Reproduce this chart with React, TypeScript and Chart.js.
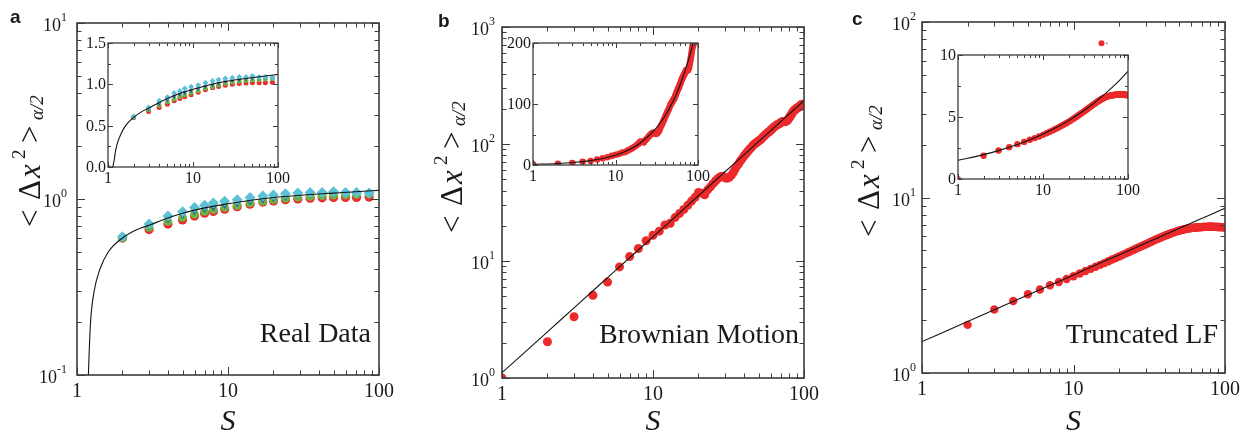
import React, { useEffect, useRef } from "react";
import { Chart, registerables } from "chart.js";

Chart.register(...registerables);

const SERIF = '"Liberation Serif", "Times New Roman", Times, serif';
const SANS = '"Liberation Sans", Arial, Helvetica, sans-serif';
const RED = "#ec2a2c";
const GREEN = "#6cb443";
const BLUE = "#2c58a6";
const CYAN = "#5cc1d4";
const FRAME = "#3c3c3c";
const INK = "#1a1a1a";

// ---------- tick definitions ----------
const sTicks = [1, 10, 100];
const sTickLabels = ["1", "10", "100"];
const sMinor = [2, 3, 4, 5, 6, 7, 8, 9, 20, 30, 40, 50, 60, 70, 80, 90];

const aYTicks = [0.1, 1, 10];
const aYSup = ["-1", "0", "1"];
const aYMinor = [0.2, 0.3, 0.4, 0.5, 0.6, 0.7, 0.8, 0.9, 2, 3, 4, 5, 6, 7, 8, 9];
const bYTicks = [1, 10, 100, 1000];
const bYSup = ["0", "1", "2", "3"];
const bYMinor = [2, 3, 4, 5, 6, 7, 8, 9, 20, 30, 40, 50, 60, 70, 80, 90, 200, 300, 400, 500, 600, 700, 800, 900];
const cYTicks = [1, 10, 100];
const cYSup = ["0", "1", "2"];
const cYMinor = [2, 3, 4, 5, 6, 7, 8, 9, 20, 30, 40, 50, 60, 70, 80, 90];

const aInYTicks = [0, 0.5, 1.0, 1.5];
const aInYLabels = ["0.0", "0.5", "1.0", "1.5"];
const aInYMinor = [0.25, 0.75, 1.25];
const bInYTicks = [0, 100, 200];
const bInYLabels = ["0", "100", "200"];
const bInYMinor = [50, 150];
const cInYTicks = [0, 5, 10];
const cInYLabels = ["0", "5", "10"];
const cInYMinor = [2.5, 7.5];

// ---------- panel a: real data ----------
const sA = [2, 3, 4, 5, 6, 7, 8, 9.5, 11.5, 14, 17, 20, 24, 29, 35, 42, 50, 60, 71, 86];
const aRed = [0.6, 0.67, 0.72, 0.76, 0.8, 0.83, 0.85, 0.875, 0.905, 0.935, 0.96, 0.975, 0.99, 1.0, 1.01, 1.015, 1.02, 1.02, 1.02, 1.025];
const aGreen = [0.6, 0.69, 0.745, 0.785, 0.82, 0.85, 0.87, 0.895, 0.92, 0.95, 0.97, 0.99, 1.01, 1.025, 1.035, 1.045, 1.05, 1.055, 1.06, 1.065];
const aBlue = [0.6, 0.7, 0.77, 0.815, 0.855, 0.88, 0.9, 0.925, 0.95, 0.975, 0.995, 1.015, 1.035, 1.05, 1.06, 1.07, 1.075, 1.08, 1.08, 1.08];
const aCyan = [0.61, 0.72, 0.8, 0.845, 0.895, 0.92, 0.95, 0.97, 0.99, 1.02, 1.04, 1.055, 1.07, 1.08, 1.09, 1.09, 1.1, 1.09, 1.09, 1.08];
const aStartS = [1];
const aStartY = [0];
const aFitS = [1.14, 1.165, 1.19, 1.23, 1.3, 1.42, 1.61, 2.0, 2.5, 3, 4, 5, 7, 10, 15, 20, 30, 50, 70, 100];
const aFitY = [0, 0.05, 0.1, 0.2, 0.3, 0.4, 0.5, 0.6, 0.67, 0.71, 0.78, 0.83, 0.89, 0.94, 0.99, 1.02, 1.05, 1.08, 1.1, 1.12];

// ---------- panel b: Brownian motion ----------
const sB = [1, 2, 3, 4, 5, 6, 7, 8, 9, 10, 11, 12, 13, 14, 15, 16, 17, 18, 19, 20, 21, 22, 23, 24, 25, 26, 27, 28, 29, 30, 31, 32, 33, 34, 35, 36, 37, 38, 39, 40, 41, 42, 43, 44, 45, 46, 47, 48, 49, 50, 51, 52, 53, 54, 55, 56, 57, 58, 59, 60, 61, 62, 63, 64, 65, 66, 67, 68, 69, 70, 71, 72, 73, 74, 75, 76, 77, 78, 79, 80, 81, 82, 83, 84, 85, 86, 87, 88, 89, 90, 91, 92, 93, 94, 95, 96, 97, 98, 99, 100];
const bY = [1.0, 2.04, 3.34, 5.1, 6.6, 8.9, 10.9, 12.8, 14.9, 16.6, 18.0, 20.3, 21.0, 23.5, 25.5, 27.6, 29.9, 32.5, 35.0, 38.5, 38.0, 36.8, 40.5, 43.0, 45.8, 48.5, 50.8, 52.5, 53.0, 51.5, 51.0, 52.0, 54.0, 57.0, 61.0, 65.0, 68.0, 72.0, 75.0, 79.0, 82, 85, 88.5, 91, 94, 97.5, 100, 102, 104, 106, 108, 110, 113, 116, 119, 121, 124, 126, 128, 131, 133, 136, 139, 141, 143, 145, 147, 148, 150, 152, 154, 155, 156, 156, 155, 157, 158, 160, 164, 168, 172, 177, 181, 186, 190, 194, 196, 198, 200, 203, 205, 206, 208, 210, 214, 218, 216, 212, 215, 220];
const bFitS = [1, 2, 3, 5, 7, 10, 15, 20, 30, 40, 50, 60, 70, 80, 90, 100];
const bFitY = [1.11, 2.48, 3.98, 7.21, 10.66, 16.1, 25.8, 36.1, 57.9, 80.8, 104.8, 129.5, 155, 181, 207.6, 234.6];

// ---------- panel c: truncated Levy flight ----------
const sC = [2, 3, 4, 5, 6, 7, 8, 9, 10, 11, 12, 13, 14, 15, 16, 17, 18, 19, 20, 21, 22, 23, 24, 25, 26, 27, 28, 29, 30, 31, 32, 33, 34, 35, 36, 37, 38, 39, 40, 41, 42, 43, 44, 45, 46, 47, 48, 49, 50, 51, 52, 53, 54, 55, 56, 57, 58, 59, 60, 61, 62, 63, 64, 65, 66, 67, 68, 69, 70, 71, 72, 73, 74, 75, 76, 77, 78, 79, 80, 81, 82, 83, 84, 85, 86, 87, 88, 89, 90, 91, 92, 93, 94, 95, 96, 97, 98, 99, 100];
const cY = [1.88, 2.3, 2.57, 2.81, 2.99, 3.16, 3.3, 3.43, 3.56, 3.69, 3.81, 3.92, 4.03, 4.13, 4.23, 4.33, 4.43, 4.52, 4.61, 4.7, 4.79, 4.88, 4.96, 5.04, 5.12, 5.2, 5.28, 5.35, 5.42, 5.49, 5.56, 5.63, 5.7, 5.76, 5.82, 5.88, 5.94, 6.0, 6.05, 6.1, 6.15, 6.2, 6.25, 6.29, 6.33, 6.37, 6.41, 6.45, 6.48, 6.51, 6.54, 6.57, 6.59, 6.61, 6.63, 6.65, 6.67, 6.68, 6.7, 6.71, 6.72, 6.73, 6.74, 6.75, 6.76, 6.77, 6.77, 6.78, 6.78, 6.79, 6.79, 6.8, 6.8, 6.8, 6.8, 6.81, 6.81, 6.81, 6.81, 6.81, 6.81, 6.81, 6.8, 6.8, 6.8, 6.8, 6.8, 6.79, 6.79, 6.79, 6.79, 6.78, 6.78, 6.78, 6.78, 6.77, 6.77, 6.77, 6.77];
const cStartS = [1];
const cStartY = [0];
const cFitS = [1, 2, 3, 5, 7, 10, 15, 20, 30, 40, 50, 60, 70, 80, 90, 100];
const cFitY = [1.51, 1.965, 2.29, 2.78, 3.16, 3.62, 4.23, 4.71, 5.5, 6.13, 6.68, 7.16, 7.59, 7.98, 8.35, 8.68];
const cMarkRedS = [15.3];
const cMarkGreyS = [16.6];
const cMarkY = [75.6];

// ---------- helpers ----------
type Pt = { x: number; y: number };
const pts = (xs: number[], ys: number[]): Pt[] => xs.map((x, i) => ({ x, y: ys[i] }));
const positive = (p: Pt[]) => p.filter((q) => q.y > 0);

const dots = (data: Pt[], color: string, r: number, style = "circle", rot = 0, border = 0, borderColor = color) => ({
  data,
  showLine: false,
  pointStyle: style,
  pointRotation: rot,
  pointRadius: r,
  pointHoverRadius: r,
  pointBackgroundColor: color,
  pointBorderColor: borderColor,
  pointBorderWidth: border,
  clip: 0,
});
const curve = (data: Pt[]) => ({
  data,
  showLine: true,
  borderColor: "#141414",
  borderWidth: 1.1,
  pointRadius: 0,
  pointHoverRadius: 0,
  fill: false,
  cubicInterpolationMode: "monotone",
  clip: 0,
});

type AxisDef = {
  log: boolean;
  min: number;
  max: number;
  major: number[];
  minor: number[];
  labels: string[];
  sup?: string[];
  gap?: number;
};
type Spec = {
  key: string;
  left: number;
  top: number;
  w: number;
  h: number;
  pad: { left: number; top: number; right: number; bottom: number };
  main: boolean;
  x: AxisDef;
  y: AxisDef;
  datasets: any[];
  extra?: (ctx: CanvasRenderingContext2D, a: any) => void;
};

function drawYTitle(ctx: CanvasRenderingContext2D, bx: number, by: number) {
  ctx.save();
  ctx.translate(bx, by);
  ctx.rotate(-Math.PI / 2);
  ctx.fillStyle = INK;
  ctx.textAlign = "left";
  ctx.textBaseline = "alphabetic";
  ctx.font = `31px ${SERIF}`;
  ctx.fillText("<", 0, 0);
  ctx.fillText("\u0394", 27, 0);
  ctx.font = `italic 31px ${SERIF}`;
  ctx.fillText("x", 49, 0);
  ctx.font = `19px ${SERIF}`;
  ctx.fillText("2", 68, -15);
  ctx.font = `31px ${SERIF}`;
  ctx.fillText(">", 84, 0);
  ctx.font = `italic 19px ${SERIF}`;
  ctx.fillText("\u03b1/2", 107, 3);
  ctx.restore();
}

function panelText(
  letter: string,
  lx: number,
  ly: number,
  tbx: number,
  tby: number,
  note: string,
  noteRight: number,
  noteBase: number
) {
  return (ctx: CanvasRenderingContext2D, a: any) => {
    ctx.save();
    ctx.fillStyle = INK;
    ctx.textBaseline = "alphabetic";
    ctx.font = `bold 19px ${SANS}`;
    ctx.textAlign = "left";
    ctx.fillText(letter, lx, ly);
    ctx.font = `28px ${SERIF}`;
    ctx.textAlign = "right";
    ctx.fillText(note, noteRight, noteBase);
    ctx.font = `italic 30px ${SERIF}`;
    ctx.textAlign = "center";
    ctx.fillText("S", (a.left + a.right) / 2, 430);
    ctx.restore();
    drawYTitle(ctx, tbx, tby);
  };
}

function axesPlugin(spec: Spec) {
  return {
    id: "axesFrame",
    afterDraw(chart: any) {
      const ctx: CanvasRenderingContext2D = chart.ctx;
      const a = chart.chartArea;
      const xs = chart.scales.x;
      const ys = chart.scales.y;
      const big = spec.main;
      const Lmaj = big ? 8 : 5;
      const Lmin = big ? 4.5 : 3;
      ctx.save();
      ctx.strokeStyle = FRAME;
      ctx.lineWidth = 1;
      ctx.beginPath();
      const tx = (v: number, len: number) => {
        const p = Math.round(xs.getPixelForValue(v)) + 0.5;
        ctx.moveTo(p, a.bottom);
        ctx.lineTo(p, a.bottom - len);
        ctx.moveTo(p, a.top);
        ctx.lineTo(p, a.top + len);
      };
      const ty = (v: number, len: number) => {
        const p = Math.round(ys.getPixelForValue(v)) + 0.5;
        ctx.moveTo(a.left, p);
        ctx.lineTo(a.left + len, p);
        ctx.moveTo(a.right, p);
        ctx.lineTo(a.right - len, p);
      };
      spec.x.major.forEach((v) => tx(v, Lmaj));
      spec.x.minor.forEach((v) => tx(v, Lmin));
      spec.y.major.forEach((v) => ty(v, Lmaj));
      spec.y.minor.forEach((v) => ty(v, Lmin));
      ctx.stroke();
      ctx.lineWidth = big ? 1.6 : 1.3;
      ctx.strokeRect(a.left, a.top, a.right - a.left, a.bottom - a.top);

      // tick labels
      ctx.fillStyle = INK;
      ctx.textBaseline = "alphabetic";
      const xf = big ? 20 : 16;
      ctx.font = `${xf}px ${SERIF}`;
      ctx.textAlign = "center";
      spec.x.major.forEach((v, i) => {
        ctx.fillText(spec.x.labels[i], xs.getPixelForValue(v), a.bottom + (big ? 22 : 16));
      });
      if (spec.y.sup) {
        spec.y.major.forEach((v, i) => {
          const py = ys.getPixelForValue(v);
          const sup = spec.y.sup![i];
          ctx.font = `12px ${SERIF}`;
          const sw = ctx.measureText(sup).width;
          const xr = a.left - (spec.y.gap ?? 8);
          ctx.textAlign = "left";
          ctx.fillText(sup, xr - sw, py - 2);
          ctx.font = `18px ${SERIF}`;
          ctx.textAlign = "right";
          ctx.fillText(spec.y.labels[i], xr - sw, py + 8);
        });
      } else {
        ctx.font = `16px ${SERIF}`;
        ctx.textAlign = "right";
        spec.y.major.forEach((v, i) => {
          ctx.fillText(spec.y.labels[i], a.left - 2, ys.getPixelForValue(v) + 5);
        });
      }
      ctx.restore();
      if (spec.extra) spec.extra(ctx, a);
    },
  };
}

function buildConfig(spec: Spec): any {
  return {
    type: "scatter",
    data: { datasets: spec.datasets },
    options: {
      responsive: false,
      maintainAspectRatio: false,
      animation: false,
      devicePixelRatio: 1,
      events: [],
      layout: { padding: spec.pad },
      plugins: { legend: { display: false }, tooltip: { enabled: false }, title: { display: false } },
      scales: {
        x: { type: spec.x.log ? "logarithmic" : "linear", min: spec.x.min, max: spec.x.max, display: false },
        y: { type: spec.y.log ? "logarithmic" : "linear", min: spec.y.min, max: spec.y.max, display: false },
      },
    },
    plugins: [axesPlugin(spec)],
  };
}

const sAxisMain: AxisDef = { log: true, min: 1, max: 100, major: sTicks, minor: sMinor, labels: sTickLabels };
const sAxisInset: AxisDef = { log: true, min: 1, max: 100, major: sTicks, minor: sMinor, labels: sTickLabels };

const specs: Spec[] = [
  {
    key: "a-main",
    left: 0,
    top: 0,
    w: 420,
    h: 436,
    pad: { left: 77, top: 23, right: 41, bottom: 61 },
    main: true,
    x: sAxisMain,
    y: { log: true, min: 0.1, max: 10, major: aYTicks, minor: aYMinor, labels: ["10", "10", "10"], sup: aYSup, gap: 10 },
    datasets: [
      curve(positive(pts(aFitS, aFitY))),
      dots(pts(sA, aCyan), CYAN, 5.5, "rectRot"),
      dots(pts(sA, aBlue), BLUE, 4.3, "triangle", 180),
      dots(pts(sA, aGreen), GREEN, 4.3),
      dots(pts(sA, aRed), RED, 4.6),
    ],
    extra: panelText("a", 10, 23, 40, 227, "Real Data", 371, 342),
  },
  {
    key: "b-main",
    left: 420,
    top: 0,
    w: 410,
    h: 436,
    pad: { left: 82, top: 27, right: 26, bottom: 58 },
    main: true,
    x: sAxisMain,
    y: { log: true, min: 1, max: 1000, major: bYTicks, minor: bYMinor, labels: ["10", "10", "10", "10"], sup: bYSup, gap: 7 },
    datasets: [curve(pts(bFitS, bFitY)), dots(pts(sB, bY), RED, 4.5)],
    extra: panelText("b", 18, 27, 42, 233, "Brownian Motion", 379, 343),
  },
  {
    key: "c-main",
    left: 830,
    top: 0,
    w: 420,
    h: 436,
    pad: { left: 92, top: 22, right: 25, bottom: 63 },
    main: true,
    x: sAxisMain,
    y: { log: true, min: 1, max: 100, major: cYTicks, minor: cYMinor, labels: ["10", "10", "10"], sup: cYSup, gap: 6 },
    datasets: [
      curve(pts(cFitS, cFitY)),
      dots(pts(cMarkRedS, cMarkY), RED, 3),
      dots(pts(cMarkGreyS, cMarkY), "#9a9a9a", 1),
      dots(pts(sC, cY), RED, 4.2),
    ],
    extra: panelText("c", 22, 25, 49, 237, "Truncated LF", 388, 343),
  },
  {
    key: "a-inset",
    left: 80,
    top: 30,
    w: 220,
    h: 170,
    pad: { left: 28, top: 13, right: 22, bottom: 33 },
    main: false,
    x: sAxisInset,
    y: { log: false, min: 0, max: 1.5, major: aInYTicks, minor: aInYMinor, labels: aInYLabels },
    datasets: [
      curve(pts(aFitS, aFitY)),
      dots(pts(aStartS, aStartY), CYAN, 2.6),
      dots(pts(sA, aCyan), CYAN, 3, "rectRot"),
      dots(pts(sA, aBlue), BLUE, 2.6, "triangle", 180),
      dots(pts(sA, aGreen), GREEN, 2.4),
      dots(pts(sA, aRed), RED, 2.5),
    ],
  },
  {
    key: "b-inset",
    left: 500,
    top: 30,
    w: 220,
    h: 170,
    pad: { left: 33, top: 13, right: 22, bottom: 35 },
    main: false,
    x: sAxisInset,
    y: { log: false, min: 0, max: 200, major: bInYTicks, minor: bInYMinor, labels: bInYLabels },
    datasets: [curve(pts(bFitS, bFitY)), dots(pts(sB, bY), RED, 3.3)],
  },
  {
    key: "c-inset",
    left: 930,
    top: 40,
    w: 220,
    h: 170,
    pad: { left: 28, top: 15, right: 22, bottom: 31 },
    main: false,
    x: sAxisInset,
    y: { log: false, min: 0, max: 10, major: cInYTicks, minor: cInYMinor, labels: cInYLabels },
    datasets: [curve(pts(cFitS, cFitY)), dots(pts(cStartS, cStartY), RED, 3), dots(pts(sC, cY), RED, 3.2)],
  },
];

function ChartCanvas({ spec }: { spec: Spec }) {
  const ref = useRef<HTMLCanvasElement | null>(null);
  useEffect(() => {
    if (!ref.current) return;
    const chart = new Chart(ref.current, buildConfig(spec));
    return () => chart.destroy();
  }, [spec]);
  return (
    <canvas
      ref={ref}
      width={spec.w}
      height={spec.h}
      style={{ position: "absolute", left: spec.left, top: spec.top, width: spec.w, height: spec.h }}
    />
  );
}

export default function App() {
  return (
    <div
      style={{
        position: "absolute",
        left: 0,
        top: 0,
        width: 1250,
        height: 436,
        background: "#ffffff",
        overflow: "hidden",
      }}
    >
      {specs.map((s) => (
        <ChartCanvas key={s.key} spec={s} />
      ))}
    </div>
  );
}
